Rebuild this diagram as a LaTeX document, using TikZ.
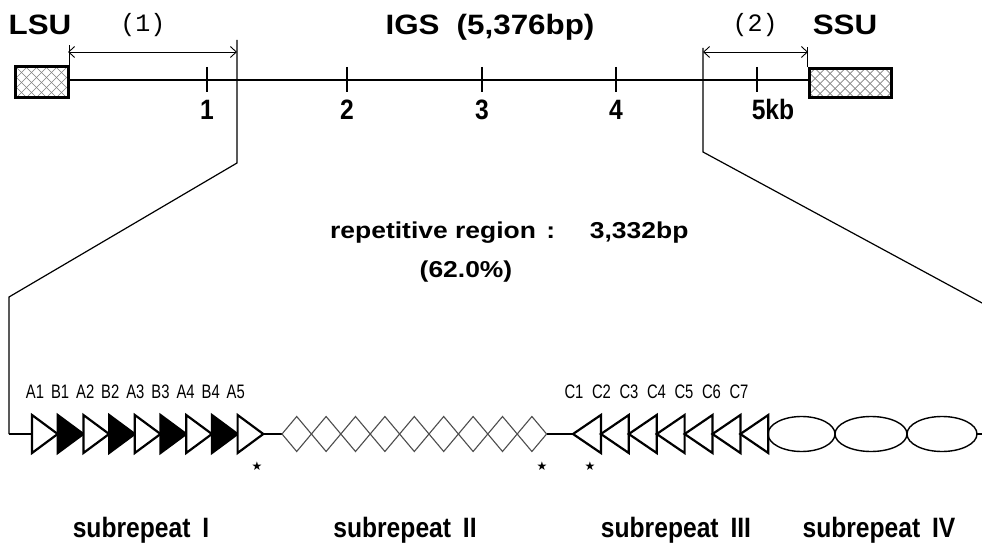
\documentclass[tikz,border=0pt]{standalone}
\usepackage{fontspec}
\usetikzlibrary{arrows.meta}
\newfontfamily\hwide{Liberation Sans}[UprightFont=* Bold, FakeStretch=1.12]
\newfontfamily\hmid{Liberation Sans}[UprightFont=* Bold, FakeStretch=1.15]
\newfontfamily\hnarrow{Liberation Sans}[UprightFont=* Bold, FakeStretch=0.88]
\newfontfamily\hlight{Liberation Sans}[FakeStretch=0.76]
\newfontfamily\hmono{Liberation Mono}
\newfontfamily\hsym{DejaVu Sans}
\begin{document}
\begin{tikzpicture}[x=1pt,y=-1pt,
  gene/.style={draw,line width=3pt,inner sep=0pt,fill=white,
    path picture={\foreach \k in {-170,-160,...,120}{
      \draw[hatchline] ([shift={(\k,-60)}]path picture bounding box.center) -- ++(120,120);
      \draw[hatchline] ([shift={(\k,60)}]path picture bounding box.center) -- ++(120,-120);}}},
  hatchline/.style={line width=0.7pt,black!50},
  backbone/.style={line width=1.9pt},
  tickmark/.style={line width=2.8pt},
  dimline/.style={line width=0.9pt},
  dimarrow/.style={line width=0.9pt,{Straight Barb[length=6pt,width=11pt]}-{Straight Barb[length=6pt,width=11pt]}},
  zoomline/.style={line width=1.2pt},
  rowline/.style={line width=2.6pt},
  tri/.style={draw,line width=2.2pt,line join=miter},
  diam/.style={draw=black!70,line width=1.1pt},
  ellip/.style={draw,line width=1.4pt},
  bigtitle/.style={font=\hwide\fontsize{28}{30}\selectfont,anchor=base,inner sep=0pt},
  parlabel/.style={font=\hmono\fontsize{25}{27}\selectfont,anchor=base,inner sep=0pt},
  ticklabel/.style={font=\hnarrow\fontsize{28}{30}\selectfont,anchor=base,inner sep=0pt},
  midtext/.style={font=\hmid\fontsize{23}{25}\selectfont,anchor=base,inner sep=0pt},
  replabel/.style={font=\hlight\fontsize{19.5}{21}\selectfont,anchor=base,inner sep=0pt},
  sublabel/.style={font=\hnarrow\fontsize{28}{30}\selectfont,anchor=base,inner sep=0pt},
  starmark/.style={font=\hsym\fontsize{12}{13}\selectfont,inner sep=0pt}
]
\path[use as bounding box] (0,0) rectangle (982,545);

% ---- rDNA unit: LSU -- IGS -- SSU ----
\node[gene,minimum width=53pt,minimum height=31pt] (lsu) at (41.5,82.5) {};
\node[gene,minimum width=82pt,minimum height=29pt] (ssu) at (850,83.5) {};
\coordinate (bl) at (lsu.east |- 0,80);
\coordinate (br) at (ssu.west |- 0,80);
\draw[backbone] (bl) -- (br);

\node[bigtitle] (lsut) at (40,35) {LSU};
\node[bigtitle] (ssut) at (845,35) {SSU};
\node[bigtitle] (igs) at (490,35) {IGS\hspace{0.3em} (5,376bp)};

% kb scale
\foreach \x/\lab/\lx/\nm in {207/1/207/k1,347/2/347/k2,482/3/482/k3,616/4/616/k4,757/5kb/773/k5}{
  \draw[tickmark] (\x,67) -- (\x,92);
  \node[ticklabel] (\nm) at (\lx,120) {\lab};
}

% regions (1) and (2)
\coordinate (d1a) at (68,52);
\coordinate (d1b) at (237,52);
\coordinate (d2a) at (703,52);
\coordinate (d2b) at (808,52);
\draw[dimline] (lsu.north east) -- ++(0,-20);
\draw[dimline] (ssu.north west) -- ++(0,-20);
\draw[dimarrow] (d1a) -- (d1b);
\draw[dimarrow] (d2a) -- (d2b);
\node[parlabel] (r1) at (143,32) {(1)};
\node[parlabel] (r2) at (755,32) {(2)};

% zoom lines down to the repeat map
\coordinate (zl0) at (237,40);
\coordinate (zl1) at (237,163);
\coordinate (zl2) at (9,297);
\coordinate (zl3) at (9,434);
\coordinate (zr0) at (703,48);
\coordinate (zr1) at (703,152);
\coordinate (zr2) at (982,303);
\draw[zoomline] (zl0) -- (zl1) -- (zl2) -- (zl3);
\draw[zoomline] (zr0) -- (zr1) -- (zr2);

% summary text
\node[midtext,anchor=base west] (rep) at (330,239) {repetitive region\hspace{3pt} :\hspace{25pt} 3,332bp};
\node[midtext] (pct) at (466,277) {(62.0\%)};

% ---- repeat map ----
\coordinate (a0) at (32,434);
\draw[rowline] (zl3) -- (a0);

% subrepeat I: A/B triangles
\foreach \i [evaluate=\i as \l using 32+25.7*\i] in {0,...,8}{
  \ifodd\i \def\tfill{black}\else\def\tfill{white}\fi
  \draw[tri,fill=\tfill] (\l,415) -- (\l+25.7,434) -- (\l,453) -- cycle;
}
\foreach \t [count=\i from 0] in {A1,B1,A2,B2,A3,B3,A4,B4,A5}{
  \node[replabel] (lab\t) at (35+25.1*\i,398) {\t};
}
\coordinate (a9) at (263,434);
\coordinate (d0) at (282,434);
\draw[rowline] (a9) -- (d0);

% subrepeat II: diamonds
\foreach \i [evaluate=\i as \c using 282+14.7+29.4*\i] in {0,...,8}{
  \draw[diam] (\c-14.7,434) -- (\c,416.5) -- (\c+14.7,434) -- (\c,451.5) -- cycle;
}
\coordinate (d9) at (547,434);
\coordinate (c0) at (573,434);
\draw[rowline] (d9) -- (c0);

% subrepeat III: C triangles
\foreach \i [evaluate=\i as \t using 573+27.9*\i] in {0,...,6}{
  \draw[tri,fill=white] (\t,434) -- (\t+27.9,415) -- (\t+27.9,453) -- cycle;
}
\foreach \t [count=\i from 0] in {C1,C2,C3,C4,C5,C6,C7}{
  \node[replabel] (lab\t) at (574+27.5*\i,398) {\t};
}

% subrepeat IV: ellipses
\draw[ellip] (801.5,434) ellipse [x radius=33.5, y radius=17.5];
\draw[ellip] (871,434) ellipse [x radius=36, y radius=17.5];
\draw[ellip] (942,434) ellipse [x radius=35, y radius=17.5];
\coordinate (e3) at (977,434);
\coordinate (eend) at (982,434);
\draw[rowline] (e3) -- (eend);

% marked units
\node[starmark] (st1) at (257,466) {★};
\node[starmark] (st2) at (542,466) {★};
\node[starmark] (st3) at (590,466) {★};

% subrepeat names
\node[sublabel] (sI) at (141,537) {subrepeat\hspace{5pt} I};
\node[sublabel] (sII) at (405,537) {subrepeat\hspace{5pt} II};
\node[sublabel] (sIII) at (676,537) {subrepeat\hspace{5pt} III};
\node[sublabel] (sIV) at (879,537) {subrepeat\hspace{5pt} IV};
\end{tikzpicture}
\end{document}
